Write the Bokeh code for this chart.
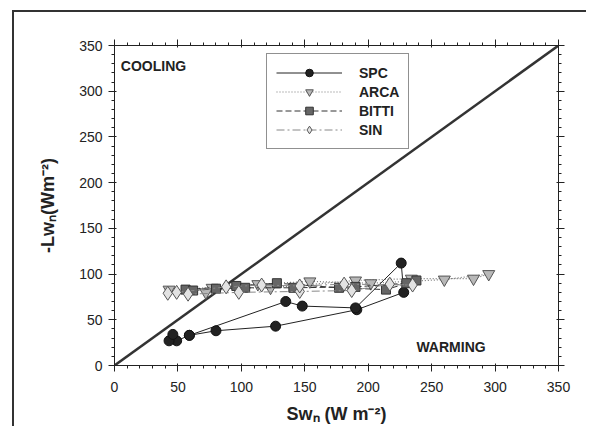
from bokeh.plotting import figure
from bokeh.models import LinearAxis, Label, Legend, FixedTicker
from bokeh.embed import file_html
from bokeh.resources import INLINE

# ---- data ----
spc_x = [59, 80, 127, 191, 228, 226, 190, 148, 135, 59, 49, 43, 46]
spc_y = [33, 38, 43, 61, 80, 112, 63, 65, 70, 33, 27, 27, 34]

arca_x = [43, 77, 123, 190, 234, 283, 295, 260, 202, 154, 113, 72]
arca_y = [83, 85, 85, 93, 95, 95, 100, 94, 90, 92, 89, 80]

bitti_x = [56, 96, 128, 177, 214, 238, 230, 190, 141, 103, 80, 62]
bitti_y = [83, 87, 90, 85, 83, 93, 90, 86, 85, 85, 84, 82]

sin_x = [42, 58, 98, 146, 187, 217, 235, 181, 146, 116, 88, 49]
sin_y = [79, 78, 80, 81, 82, 89, 88, 89, 87, 88, 86, 80]

diag = [0, 350]
ticks = [0, 50, 100, 150, 200, 250, 300, 350]
minor = list(range(0, 351, 10))

FONT = "Liberation Sans"
DARK = "#222222"

p = figure(frame_width=444, frame_height=320,
           min_border_left=114, min_border_right=28,
           min_border_top=45, min_border_bottom=59,
           x_range=(0, 350), y_range=(0, 350),
           output_backend="svg", toolbar_location=None,
           background_fill_color="white", border_fill_color="white")
p.border_fill_alpha = 0
p.outline_line_color = None
p.grid.visible = False
# outer frame (top and left edges) drawn behind the transparent canvas border
p.styles = {"background-color": "white",
            "background-image": "linear-gradient(#333333,#333333), linear-gradient(#333333,#333333)",
            "background-repeat": "no-repeat",
            "background-position": "12px 10px, 12px 10px",
            "background-size": "100% 2px, 2px 100%"}

xax = p.xaxis[0]
yax = p.yaxis[0]

def style_axis(ax, labels=True):
    ax.ticker = FixedTicker(ticks=ticks, minor_ticks=minor)
    ax.axis_line_color = DARK
    ax.axis_line_width = 1
    ax.major_tick_line_color = DARK
    ax.minor_tick_line_color = DARK
    ax.major_tick_out = 6
    ax.major_tick_in = 2
    ax.minor_tick_out = 3
    ax.minor_tick_in = 0
    ax.major_label_text_font = FONT
    ax.major_label_text_font_size = "14px"
    ax.major_label_text_color = DARK
    if not labels:
        ax.major_label_text_alpha = 0
        ax.major_label_text_font_size = "1px"
        ax.major_label_standoff = 0

style_axis(xax)
style_axis(yax)
xax.major_label_standoff = 10
yax.major_label_standoff = 6

top = LinearAxis()
right = LinearAxis()
style_axis(top, labels=False)
style_axis(right, labels=False)
p.add_layout(top, "above")
p.add_layout(right, "right")

xax.axis_label = "Swₙ (W m⁻²)"
yax.axis_label = "-Lwₙ(Wm⁻²)"
for ax in [xax, yax]:
    ax.axis_label_text_font = FONT
    ax.axis_label_text_font_style = "bold"
    ax.axis_label_text_font_size = "18px"
    ax.axis_label_text_color = DARK
xax.axis_label_standoff = 9
yax.axis_label_standoff = 18

# diagonal
p.line(diag, diag, line_color="#333333", line_width=2.5)

# series
l1 = p.line(spc_x, spc_y, line_color=DARK, line_width=1)
s1 = p.scatter(spc_x, spc_y, marker="circle", size=10, fill_color=DARK, line_color="#111111")

l2 = p.line(arca_x, arca_y, line_color="#777777", line_width=1.2, line_dash="1 2")
s2 = p.scatter(arca_x, arca_y, marker="inverted_triangle", size=12, fill_color="#b8b8b8", line_color="#555555")

l3 = p.line(bitti_x, bitti_y, line_color="#333333", line_width=1, line_dash="6 3")
s3 = p.scatter(bitti_x, bitti_y, marker="square", size=9, fill_color="#666666", line_color="#333333")

l4 = p.line(sin_x, sin_y, line_color="#888888", line_width=1, line_dash="8 3 2 3")
s4 = p.scatter(sin_x, sin_y, marker="diamond", size=14, fill_color="#e2e2e2", line_color="#555555")

legend = Legend(items=[("SPC", [l1, s1]), ("ARCA", [l2, s2]), ("BITTI", [l3, s3]), ("SIN", [l4, s4])],
                location=(152, 216))
legend.glyph_width = 66
legend.glyph_height = 19
legend.label_height = 19
legend.label_standoff = 17
legend.spacing = 0
legend.padding = 9
legend.margin = 0
legend.border_line_color = DARK
legend.border_line_width = 1
legend.background_fill_color = "white"
legend.background_fill_alpha = 1
legend.label_text_font = FONT
legend.label_text_font_style = "bold"
legend.label_text_font_size = "14px"
legend.label_text_color = DARK
p.add_layout(legend, "center")

p.add_layout(Label(x=5, y=328, text="COOLING", text_font=FONT, text_font_style="bold",
                   text_font_size="14px", text_color=DARK, text_baseline="middle"))
p.add_layout(Label(x=238, y=20, text="WARMING", text_font=FONT, text_font_style="bold",
                   text_font_size="14px", text_color=DARK, text_baseline="middle"))

open("out.html", "w").write(file_html(p, INLINE))
